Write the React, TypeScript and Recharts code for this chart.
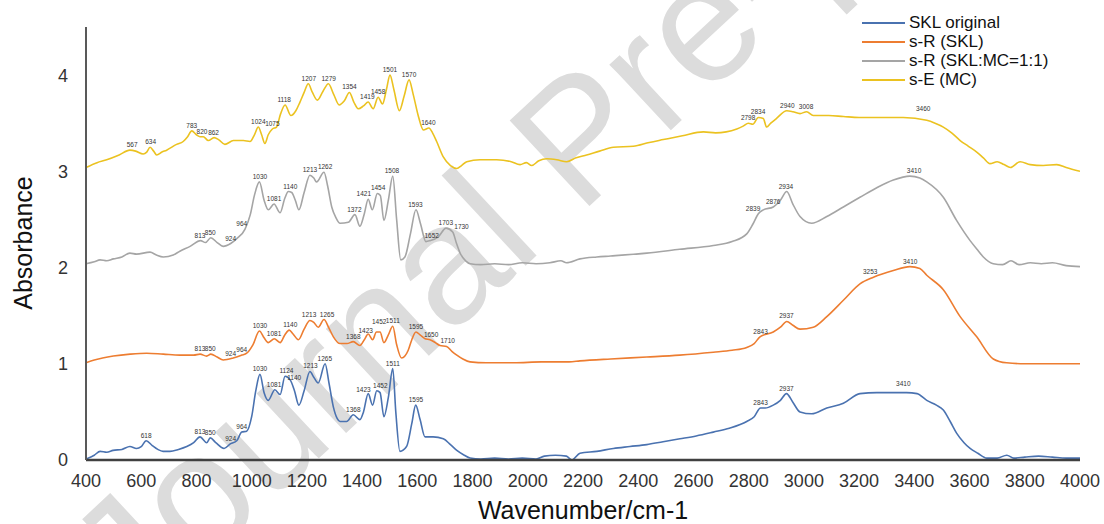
import React from "react";
import { LineChart, Line, XAxis, YAxis, ReferenceDot } from "recharts";

// ===== Spectra (wavenumber / absorbance) =====
const SKL_WN = [
  400, 430, 451, 475, 498, 530, 559, 583, 600, 618, 640, 660, 679, 704, 735, 765, 790, 813, 837, 850,
  870, 900, 924, 946, 964, 982, 1000, 1015, 1030, 1045, 1060, 1084, 1103, 1121, 1140, 1155, 1171, 1190,
  1211, 1225, 1241, 1266, 1280, 1296, 1310, 1320, 1344, 1368, 1392, 1405, 1422, 1438, 1453, 1465, 1479,
  1495, 1511, 1522, 1537, 1561, 1580, 1594, 1610, 1628, 1657, 1694, 1720, 1743, 1770, 1791, 1830, 1880,
  1930, 1980, 2030, 2060, 2100, 2140, 2160, 2189, 2250, 2310, 2370, 2431, 2490, 2551, 2610, 2672, 2730,
  2793, 2820, 2843, 2860, 2889, 2915, 2937, 2960, 2986, 3028, 3083, 3143, 3203, 3264, 3320, 3372, 3410,
  3445, 3480, 3505, 3530, 3553, 3580, 3602, 3630, 3662, 3700, 3735, 3760, 3800, 3850, 3900, 3950, 4000,
];
const SKL_ABS = [
  0.01, 0.05, 0.09, 0.08, 0.1, 0.11, 0.14, 0.12, 0.14, 0.2, 0.15, 0.11, 0.09, 0.09, 0.11, 0.14, 0.18,
  0.24, 0.18, 0.23, 0.18, 0.12, 0.17, 0.2, 0.29, 0.3, 0.45, 0.72, 0.89, 0.7, 0.62, 0.73, 0.68, 0.87,
  0.83, 0.72, 0.57, 0.72, 0.92, 0.86, 0.8, 1.0, 0.8, 0.55, 0.43, 0.4, 0.4, 0.47, 0.42, 0.5, 0.69, 0.57,
  0.72, 0.7, 0.45, 0.65, 0.95, 0.5, 0.09, 0.14, 0.38, 0.57, 0.42, 0.24, 0.24, 0.22, 0.16, 0.1, 0.05,
  0.02, 0.01, 0.02, 0.01, 0.02, 0.01, 0.04, 0.05, 0.04, 0.0, 0.07, 0.09, 0.12, 0.14, 0.16, 0.19, 0.22,
  0.25, 0.29, 0.33, 0.4, 0.45, 0.54, 0.54, 0.57, 0.62, 0.69, 0.6, 0.5, 0.48, 0.54, 0.59, 0.69, 0.7,
  0.7, 0.7, 0.69, 0.62, 0.57, 0.52, 0.4, 0.28, 0.18, 0.12, 0.07, 0.02, 0.02, 0.05, 0.02, 0.03, 0.04,
  0.03, 0.02, 0.02,
];

const SRSKL_WN = [
  400, 430, 460, 499, 560, 620, 680, 740, 790, 813, 837, 852, 875, 897, 933, 964, 982, 1005, 1028, 1045,
  1060, 1082, 1103, 1120, 1136, 1150, 1169, 1190, 1211, 1225, 1241, 1262, 1280, 1296, 1320, 1345, 1368,
  1392, 1408, 1422, 1438, 1452, 1465, 1479, 1495, 1511, 1525, 1543, 1567, 1580, 1595, 1610, 1628, 1646,
  1665, 1682, 1706, 1725, 1743, 1765, 1791, 1850, 1950, 2050, 2150, 2189, 2300, 2431, 2550, 2672, 2740,
  2793, 2820, 2841, 2889, 2915, 2938, 2960, 2986, 3034, 3083, 3143, 3203, 3252, 3324, 3384, 3420, 3445,
  3505, 3566, 3626, 3686, 3734, 3800, 3900, 4000,
];
const SRSKL_ABS = [
  1.01, 1.04, 1.06, 1.08, 1.1, 1.11, 1.1, 1.09, 1.09, 1.1, 1.08, 1.1, 1.07, 1.04, 1.06, 1.09, 1.11,
  1.2, 1.34, 1.27, 1.22, 1.26, 1.22, 1.3, 1.35, 1.31, 1.25, 1.36, 1.45, 1.43, 1.38, 1.46, 1.37, 1.28,
  1.21, 1.21, 1.23, 1.19, 1.25, 1.31, 1.25, 1.33, 1.33, 1.22, 1.3, 1.39, 1.2, 1.06, 1.14, 1.25, 1.33,
  1.3, 1.26, 1.25, 1.22, 1.19, 1.18, 1.13, 1.09, 1.05, 1.02, 1.01, 1.01, 1.02, 1.02, 1.03, 1.05, 1.07,
  1.09, 1.12, 1.14, 1.17, 1.21, 1.28, 1.33, 1.38, 1.44, 1.4, 1.36, 1.38, 1.49, 1.66, 1.83, 1.9, 1.97,
  2.01, 1.99, 1.92, 1.77, 1.49, 1.28, 1.05, 1.01, 1.0, 1.0, 1.0,
];

const SRMIX_WN = [
  400, 430, 451, 475, 499, 530, 559, 583, 632, 655, 680, 716, 740, 777, 815, 833, 852, 875, 897, 924,
  946, 976, 995, 1010, 1028, 1045, 1060, 1081, 1103, 1120, 1133, 1145, 1158, 1171, 1190, 1211, 1225,
  1235, 1262, 1275, 1290, 1305, 1320, 1350, 1374, 1392, 1408, 1422, 1437, 1455, 1466, 1479, 1495, 1511,
  1525, 1540, 1555, 1575, 1595, 1612, 1631, 1646, 1676, 1704, 1728, 1742, 1755, 1775, 1791, 1830, 1880,
  1930, 1980, 2030, 2080, 2120, 2140, 2189, 2250, 2300, 2431, 2550, 2672, 2740, 2793, 2815, 2835, 2853,
  2889, 2915, 2938, 2960, 2986, 3028, 3083, 3143, 3203, 3264, 3324, 3384, 3420, 3445, 3505, 3553, 3602,
  3630, 3650, 3686, 3720, 3750, 3780, 3820, 3860, 3900, 3950, 4000,
];
const SRMIX_ABS = [
  2.04, 2.06, 2.08, 2.07, 2.09, 2.11, 2.15, 2.14, 2.16, 2.13, 2.11, 2.13, 2.17, 2.22, 2.28, 2.26, 2.31,
  2.26, 2.22, 2.25, 2.3, 2.4, 2.55, 2.75, 2.89, 2.7, 2.6, 2.66, 2.57, 2.72, 2.79, 2.78, 2.7, 2.6, 2.78,
  2.96, 2.93, 2.89, 2.99, 2.85, 2.63, 2.52, 2.46, 2.47, 2.55, 2.43, 2.56, 2.71, 2.6, 2.77, 2.75, 2.49,
  2.7, 2.95, 2.5, 2.08, 2.11, 2.35, 2.6, 2.45, 2.27, 2.28, 2.32, 2.41, 2.37, 2.25, 2.15, 2.07, 2.04,
  2.03, 2.04, 2.03, 2.05, 2.04, 2.05, 2.07, 2.05, 2.09, 2.11, 2.12, 2.15, 2.19, 2.23, 2.27, 2.35, 2.45,
  2.56, 2.6, 2.63, 2.7, 2.79, 2.66, 2.53, 2.46, 2.53, 2.63, 2.73, 2.83, 2.91, 2.95, 2.93, 2.89, 2.73,
  2.49, 2.28, 2.18, 2.11, 2.04, 2.03, 2.07, 2.03, 2.05, 2.04, 2.05, 2.02, 2.01,
];

const SEMC_WN = [
  400, 440, 475, 520, 559, 580, 607, 620, 632, 645, 656, 675, 692, 728, 752, 768, 783, 800, 813, 825,
  843, 864, 880, 903, 934, 970, 994, 1010, 1024, 1036, 1048, 1060, 1075, 1090, 1105, 1121, 1142, 1160,
  1175, 1190, 1205, 1220, 1238, 1258, 1278, 1297, 1317, 1335, 1354, 1370, 1386, 1405, 1422, 1440, 1458,
  1474, 1488, 1501, 1515, 1535, 1552, 1570, 1585, 1604, 1622, 1642, 1655, 1670, 1694, 1720, 1743, 1760,
  1779, 1827, 1887, 1940, 1972, 1995, 2014, 2040, 2069, 2105, 2141, 2175, 2213, 2260, 2310, 2382, 2440,
  2491, 2560, 2636, 2680, 2757, 2780, 2799, 2815, 2835, 2853, 2865, 2880, 2901, 2938, 2960, 2986, 3010,
  3034, 3090, 3143, 3200, 3264, 3360, 3445, 3475, 3505, 3535, 3566, 3596, 3626, 3650, 3674, 3700, 3725,
  3748, 3783, 3820, 3867, 3916, 3950, 4000,
];
const SEMC_ABS = [
  3.04, 3.09, 3.12, 3.17, 3.22, 3.21, 3.18, 3.2, 3.25, 3.21, 3.17, 3.2, 3.22, 3.28, 3.31, 3.36, 3.42,
  3.38, 3.36, 3.36, 3.32, 3.35, 3.33, 3.28, 3.32, 3.32, 3.31, 3.38, 3.46, 3.38, 3.29, 3.38, 3.44, 3.46,
  3.6, 3.69, 3.58, 3.63, 3.72, 3.82, 3.91, 3.82, 3.74, 3.83, 3.91, 3.8, 3.69, 3.73, 3.82, 3.72, 3.65,
  3.68, 3.72, 3.65, 3.77, 3.7, 3.85, 4.0, 3.85, 3.63, 3.78, 3.95, 3.8, 3.57, 3.43, 3.45, 3.4, 3.31,
  3.15, 3.06, 3.03, 3.06, 3.1, 3.12, 3.12, 3.1, 3.07, 3.09, 3.06, 3.11, 3.13, 3.12, 3.1, 3.14, 3.17,
  3.21, 3.25, 3.26, 3.3, 3.33, 3.37, 3.41, 3.4, 3.44, 3.47, 3.5, 3.49, 3.56, 3.55, 3.46, 3.5, 3.55,
  3.63, 3.62, 3.6, 3.62, 3.58, 3.58, 3.57, 3.56, 3.56, 3.56, 3.53, 3.5, 3.46, 3.4, 3.32, 3.26, 3.2,
  3.14, 3.08, 3.1, 3.07, 3.04, 3.1, 3.07, 3.06, 3.07, 3.04, 3.0,
];

// ===== Peak annotations: [text, wavenumber position, absorbance] =====
const SKL_PEAKS: [string, number, number][] = [
  ["618", 618, 0.2], ["813", 813, 0.24], ["850", 850, 0.23], ["924", 924, 0.17], ["964", 964, 0.29],
  ["1030", 1030, 0.89], ["1081", 1081, 0.73], ["1124", 1126, 0.87], ["1140", 1154, 0.8],
  ["1213", 1213, 0.92], ["1265", 1265, 1.0], ["1368", 1368, 0.47], ["1423", 1405, 0.68],
  ["1452", 1466, 0.72], ["1511", 1511, 0.95], ["1595", 1595, 0.57], ["2843", 2843, 0.54],
  ["2937", 2937, 0.69], ["3410", 3360, 0.74],
];
const SRSKL_PEAKS: [string, number, number][] = [
  ["813", 813, 1.1], ["850", 850, 1.1], ["924", 924, 1.05], ["964", 964, 1.09], ["1030", 1030, 1.34],
  ["1081", 1081, 1.26], ["1140", 1140, 1.35], ["1213", 1208, 1.45], ["1265", 1273, 1.46],
  ["1368", 1368, 1.23], ["1423", 1413, 1.29], ["1452", 1462, 1.38], ["1511", 1511, 1.39],
  ["1595", 1595, 1.33], ["1650", 1650, 1.25], ["1710", 1710, 1.18], ["2843", 2843, 1.28],
  ["2937", 2937, 1.44], ["3253", 3240, 1.9], ["3410", 3385, 2.01],
];
const SRMIX_PEAKS: [string, number, number][] = [
  ["813", 813, 2.28], ["850", 850, 2.31], ["924", 924, 2.25], ["964", 964, 2.4], ["1030", 1030, 2.89],
  ["1081", 1081, 2.66], ["1140", 1140, 2.79], ["1213", 1211, 2.96], ["1262", 1266, 2.99],
  ["1372", 1372, 2.55], ["1421", 1406, 2.71], ["1454", 1458, 2.77], ["1508", 1508, 2.95],
  ["1593", 1593, 2.6], ["1652", 1652, 2.28], ["1703", 1703, 2.41], ["1730", 1760, 2.37],
  ["2839", 2816, 2.56], ["2876", 2889, 2.63], ["2934", 2935, 2.79], ["3410", 3399, 2.95],
];
const SEMC_PEAKS: [string, number, number][] = [
  ["567", 567, 3.22], ["634", 634, 3.25], ["783", 783, 3.42], ["820", 820, 3.36], ["862", 862, 3.35],
  ["1024", 1024, 3.46], ["1075", 1075, 3.44], ["1118", 1118, 3.69], ["1207", 1207, 3.91],
  ["1279", 1279, 3.91], ["1354", 1354, 3.82], ["1419", 1419, 3.72], ["1458", 1458, 3.77],
  ["1501", 1501, 4.0], ["1570", 1570, 3.95], ["1640", 1640, 3.45], ["2798", 2798, 3.5],
  ["2834", 2834, 3.56], ["2940", 2940, 3.63], ["3008", 3008, 3.62], ["3460", 3432, 3.6],
];

const X_TICKS = [400, 600, 800, 1000, 1200, 1400, 1600, 1800, 2000, 2200, 2400, 2600, 2800, 3000, 3200, 3400, 3600, 3800, 4000];
const Y_TICKS = [0, 1, 2, 3, 4];

const FONT = "'Liberation Sans', Arial, sans-serif";

const toPoints = (wn: number[], ab: number[]) => wn.map((w, i) => ({ wn: w, abs: ab[i] }));

const SERIES = [
  { name: "SKL original", color: "#4A72B0", data: toPoints(SKL_WN, SKL_ABS), peaks: SKL_PEAKS },
  { name: "s-R (SKL)", color: "#ED7D31", data: toPoints(SRSKL_WN, SRSKL_ABS), peaks: SRSKL_PEAKS },
  { name: "s-R (SKL:MC=1:1)", color: "#A5A5A5", data: toPoints(SRMIX_WN, SRMIX_ABS), peaks: SRMIX_PEAKS },
  { name: "s-E (MC)", color: "#EBC220", data: toPoints(SEMC_WN, SEMC_ABS), peaks: SEMC_PEAKS },
];

function LegendBox() {
  return (
    <div style={{ position: "absolute", left: 862, top: 13, fontFamily: FONT, fontSize: 17, color: "#111" }}>
      {SERIES.map((s) => (
        <div key={s.name} style={{ display: "flex", alignItems: "center", height: 19 }}>
          <span style={{ width: 43, borderTop: `2px solid ${s.color}`, marginRight: 4 }} />
          <span style={{ lineHeight: "19px", whiteSpace: "nowrap" }}>{s.name}</span>
        </div>
      ))}
    </div>
  );
}

export default function App() {
  return (
    <div style={{ position: "absolute", left: 0, top: 0, width: 1104, height: 524, background: "#fff", overflow: "hidden" }}>
      {/* watermark */}
      <svg width={1104} height={524} style={{ position: "absolute", left: 0, top: 0 }}>
        <text transform="translate(137,628) rotate(-43)" fontFamily={FONT} fontSize={170} fill="#dcdcdc">
          Journal Pre-proof
        </text>
      </svg>

      <div style={{ position: "absolute", left: 0, top: 0 }}>
        <LineChart width={1104} height={524} margin={{ top: 27, right: 24, left: 0, bottom: 0 }}>
          <XAxis
            type="number"
            dataKey="wn"
            domain={[400, 4000]}
            ticks={X_TICKS}
            allowDataOverflow
            height={64}
            tickLine={false}
            tickSize={0}
            tickMargin={14}
            axisLine={{ stroke: "#404040", strokeWidth: 2.5 }}
            tick={{ fontSize: 18, fill: "#333", fontFamily: FONT }}
          />
          <YAxis
            type="number"
            domain={[0, 4.5]}
            ticks={Y_TICKS}
            width={86}
            tickLine={false}
            tickSize={0}
            tickMargin={18}
            axisLine={{ stroke: "#595959", strokeWidth: 2 }}
            tick={{ fontSize: 18, fill: "#333", fontFamily: FONT }}
          />
          {SERIES.map((s) => (
            <Line
              key={s.name}
              data={s.data}
              dataKey="abs"
              name={s.name}
              type="monotone"
              stroke={s.color}
              strokeWidth={1.6}
              dot={false}
              activeDot={false}
              isAnimationActive={false}
            />
          ))}
          {SERIES.flatMap((s) =>
            s.peaks.map(([txt, x, y]) => (
              <ReferenceDot
                key={s.name + txt}
                x={x}
                y={y}
                r={0}
                fill="none"
                stroke="none"
                label={{ value: txt, position: "top", offset: 3, fontSize: 6.5, fill: "#333", fontFamily: FONT }}
              />
            ))
          )}
        </LineChart>
      </div>

      <LegendBox />

      {/* axis titles */}
      <svg width={1104} height={524} style={{ position: "absolute", left: 0, top: 0, pointerEvents: "none" }}>
        <text x={583} y={519} textAnchor="middle" fontFamily={FONT} fontSize={25} fill="#111">
          Wavenumber/cm-1
        </text>
        <text transform="translate(32,243) rotate(-90)" textAnchor="middle" fontFamily={FONT} fontSize={25} fill="#111">
          Absorbance
        </text>
      </svg>
    </div>
  );
}
